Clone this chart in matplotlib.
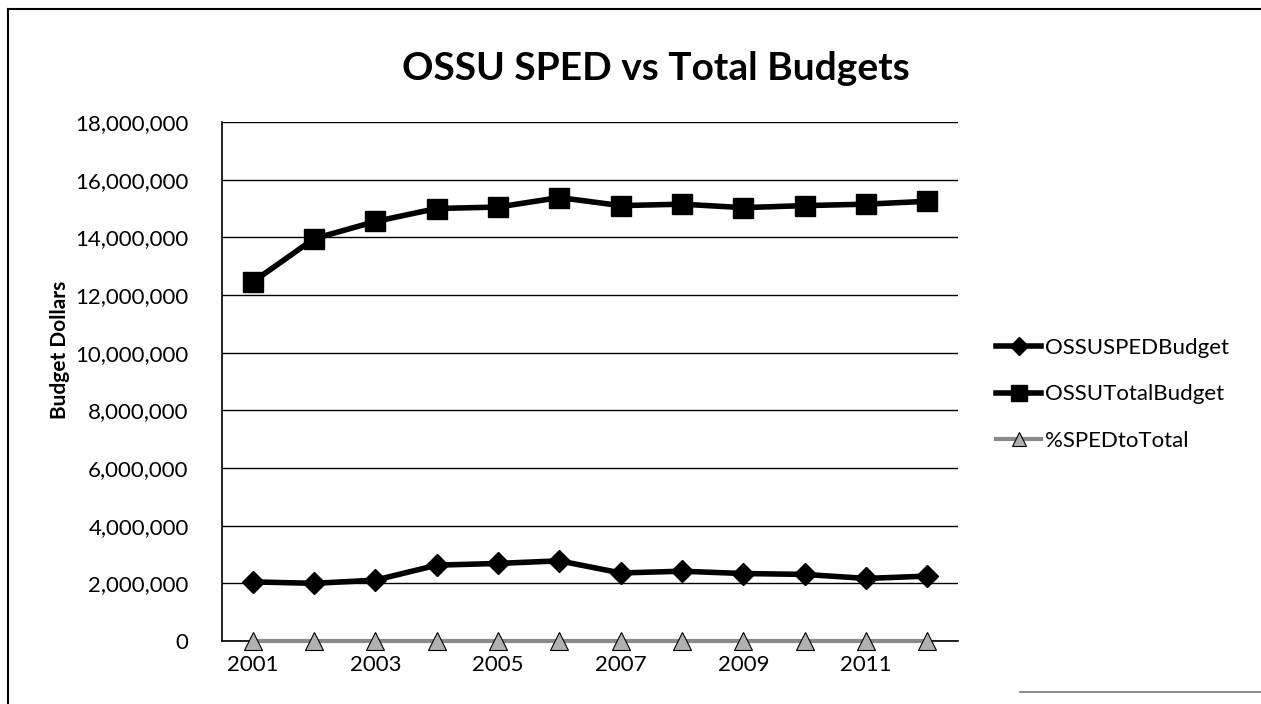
import matplotlib
matplotlib.use("Agg")
import matplotlib.pyplot as plt
from matplotlib.ticker import FuncFormatter, MultipleLocator
from matplotlib.lines import Line2D

years = [2001, 2002, 2003, 2004, 2005, 2006, 2007, 2008, 2009, 2010, 2011, 2012]
sped_budget = [2050000, 2000000, 2110000, 2630000, 2690000, 2780000, 2360000, 2420000, 2340000, 2310000, 2170000, 2250000]
total_budget = [12450000, 13950000, 14550000, 15000000, 15050000, 15380000, 15100000, 15150000, 15030000, 15100000, 15150000, 15250000]
pct_sped = [0.16, 0.14, 0.15, 0.18, 0.18, 0.18, 0.16, 0.16, 0.16, 0.15, 0.14, 0.15]
tick_labels = ["2001", "", "2003", "", "2005", "", "2007", "", "2009", "", "2011", ""]

plt.rcParams['font.family'] = ['Lato', 'DejaVu Sans']

fig = plt.figure(figsize=(12.61, 7.04), dpi=100)
ax = fig.add_axes([222/1261, 1-641/704, (958-222)/1261, (641-122)/704])

x = list(range(len(years)))
ax.plot(x, sped_budget, color='black', lw=4, marker='D', ms=11, label='OSSUSPEDBudget', zorder=3)
ax.plot(x, total_budget, color='black', lw=4, marker='s', ms=14, label='OSSUTotalBudget', zorder=3)
ax.plot(x, pct_sped, color='#8a8a8a', lw=3, marker='^', ms=13, mfc='#b0b0b0', mec='black', mew=0.8,
        label='%SPEDtoTotal', zorder=3, clip_on=False)

ax.set_xlim(-0.5, len(years) - 0.5)
ax.set_ylim(0, 18000000)
ax.yaxis.set_major_locator(MultipleLocator(2000000))
ax.yaxis.set_major_formatter(FuncFormatter(lambda v, p: f"{int(v):,}"))
ax.set_xticks(x)
ax.set_xticklabels(tick_labels)
ax.tick_params(axis='both', length=0, labelsize=16)
ax.tick_params(axis='y', pad=24)
ax.tick_params(axis='x', pad=10)
ax.grid(axis='y', color='black', lw=1)
ax.set_axisbelow(True)
for s in ['top', 'right']:
    ax.spines[s].set_visible(False)
ax.spines['left'].set_linewidth(1.2)
ax.spines['bottom'].set_linewidth(1.2)

ax.set_ylabel('Budget Dollars', fontsize=15, fontweight='bold', labelpad=4, y=0.56)
fig.text(0.52, 1-68/704, 'OSSU SPED vs Total Budgets', ha='center', va='center',
         fontsize=28, fontweight='bold')

ax.legend(loc='center left', bbox_to_anchor=(1.04, 0.475), frameon=False, fontsize=16,
          handlelength=2.0, labelspacing=1.2, handletextpad=0.2, borderaxespad=0, markerscale=0.8)

fig.add_artist(Line2D([8/1261, 8/1261], [0, 1-9/704], transform=fig.transFigure, color='black', lw=1.5))
fig.add_artist(Line2D([8/1261, 1], [1-9/704, 1-9/704], transform=fig.transFigure, color='black', lw=1.5))
fig.add_artist(Line2D([1020/1261, 1], [1-692/704, 1-692/704], transform=fig.transFigure, color='#777777', lw=1.2))

fig.savefig('out.png', dpi=100, facecolor='white')
